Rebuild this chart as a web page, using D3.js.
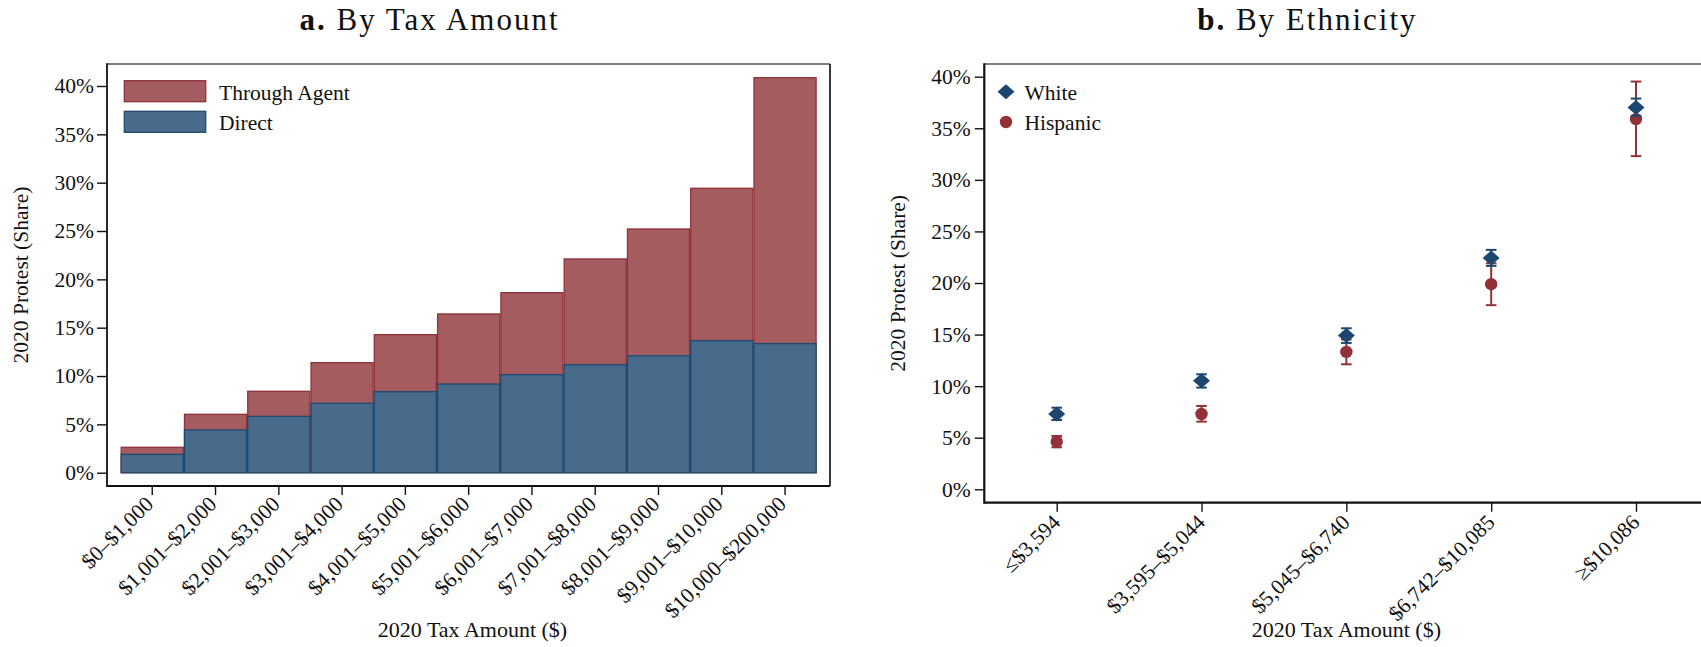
<!DOCTYPE html>
<html>
<head>
<meta charset="utf-8">
<script src="https://cdn.jsdelivr.net/npm/d3@7"></script>
<style>
  html, body { margin: 0; padding: 0; background: #fff; }
  svg { display: block; font-family: "Liberation Serif", "Times New Roman", serif; }
</style>
</head>
<body>
<svg id="fig" width="1701" height="647"></svg>
<script>
// Panel a: protest share by 2020 tax amount, split by filing channel (percent)
const taxBins = ["$0–$1,000", "$1,001–$2,000", "$2,001–$3,000", "$3,001–$4,000", "$4,001–$5,000",
  "$5,001–$6,000", "$6,001–$7,000", "$7,001–$8,000", "$8,001–$9,000", "$9,001–$10,000", "$10,000–$200,000"];
const directShare = [1.90, 4.42, 5.83, 7.18, 8.38, 9.17, 10.14, 11.17, 12.10, 13.66, 13.35];
const agentShare  = [0.73, 1.62, 2.59, 4.20, 5.90, 7.25, 8.48, 10.94, 13.11, 15.76, 27.51];

// Panel b: protest share by tax amount quintile and ethnicity (percent, with 95% CI)
const ethBins = ["≤$3,594", "$3,595–$5,044", "$5,045–$6,740", "$6,742–$10,085", "≥$10,086"];
const whiteShare = [7.30, 10.53, 14.90, 22.43, 37.01];
const whiteLow   = [6.72, 9.86, 14.19, 21.66, 36.20];
const whiteHigh  = [7.91, 11.15, 15.61, 23.21, 37.88];
const hispShare  = [4.62, 7.30, 13.32, 19.88, 35.89];
const hispLow    = [4.07, 6.56, 12.12, 17.85, 32.30];
const hispHigh   = [5.17, 8.08, 14.52, 21.91, 39.53];

const yTicks = [0, 5, 10, 15, 20, 25, 30, 35, 40];

const RED_FILL = "#a55c60", RED_LINE = "#8e3139";
const BLUE_FILL = "#486b8c", BLUE_LINE = "#1f4a70";
const NAVY = "#1b466f", MAROON = "#923238";
const FS = 21.5;

const svg = d3.select("#fig");

function frame(g, x0, x1, y0, y1, w) {
  g.append("line").attr("x1", x0).attr("x2", x1).attr("y1", y0).attr("y2", y0)
    .attr("stroke", "#555").attr("stroke-width", 1.4);
  g.append("line").attr("x1", x1).attr("x2", x1).attr("y1", y0).attr("y2", y1)
    .attr("stroke", "#222").attr("stroke-width", w);
  g.append("line").attr("x1", x0).attr("x2", x0).attr("y1", y0 - 0.7).attr("y2", y1 + w / 2)
    .attr("stroke", "#111").attr("stroke-width", w);
  g.append("line").attr("x1", x0).attr("x2", x1).attr("y1", y1).attr("y2", y1)
    .attr("stroke", "#111").attr("stroke-width", w);
}

function styleAxis(a) {
  a.select(".domain").remove();
  a.selectAll(".tick line").attr("stroke", "#111").attr("stroke-width", 1.4);
  a.selectAll(".tick text").attr("font-size", FS).attr("fill", "#111")
    .attr("font-family", "Liberation Serif, serif");
}

function title(x, y, bold, rest) {
  const t = svg.append("text").attr("x", x).attr("y", y).attr("text-anchor", "middle")
    .attr("font-size", 31).attr("letter-spacing", 2).attr("fill", "#111");
  t.append("tspan").attr("font-weight", "bold").text(bold);
  t.append("tspan").text(" " + rest);
}

// ---------- Panel a ----------
{
  const L = 107, R = 830, T = 64, B = 486;
  const x = d3.scaleBand().domain(taxBins).range([L + 13.6, R - 13.3]).padding(0);
  const y = d3.scaleLinear().domain([0, 40]).range([472.7, 86]);
  const g = svg.append("g");

  const rows = taxBins.map((b, i) => ({ bin: b, direct: directShare[i], agent: agentShare[i] }));
  const stack = d3.stack().keys(["direct", "agent"])(rows);

  // total (through agent) bars drawn from zero, direct bars laid over them
  g.append("g").selectAll("rect").data(stack[1]).join("rect")
    .attr("x", d => x(d.data.bin) + 0.6).attr("width", x.bandwidth() - 1.2)
    .attr("y", d => y(d[1])).attr("height", d => y(0) - y(d[1]))
    .attr("fill", RED_FILL).attr("stroke", RED_LINE).attr("stroke-width", 1.3);
  g.append("g").selectAll("rect").data(stack[0]).join("rect")
    .attr("x", d => x(d.data.bin) + 0.6).attr("width", x.bandwidth() - 1.2)
    .attr("y", d => y(d[1])).attr("height", d => y(0) - y(d[1]))
    .attr("fill", BLUE_FILL).attr("stroke", BLUE_LINE).attr("stroke-width", 1.3);

  frame(g, L, R, T, B, 1.8);

  const ya = g.append("g").attr("transform", `translate(${L},0)`)
    .call(d3.axisLeft(y).tickValues(yTicks).tickSize(10).tickPadding(3).tickFormat(d => d + "%"));
  styleAxis(ya);

  const xa = g.append("g").attr("transform", `translate(0,${B})`)
    .call(d3.axisBottom(x).tickSize(9).tickPadding(0));
  styleAxis(xa);
  xa.selectAll(".tick text")
    .attr("text-anchor", "end").attr("transform", "translate(-3,14) rotate(-45)")
    .attr("dy", "0.35em").attr("y", 0).attr("x", 0);

  g.append("text").attr("transform", `translate(28,${(T + B) / 2}) rotate(-90)`)
    .attr("text-anchor", "middle").attr("font-size", FS).attr("fill", "#111")
    .text("2020 Protest (Share)");
  g.append("text").attr("x", (L + R) / 2 + 4).attr("y", 637).attr("text-anchor", "middle")
    .attr("font-size", 22).attr("fill", "#111").text("2020 Tax Amount ($)");

  // legend
  const leg = [["Through Agent", RED_FILL, RED_LINE, 80.7], ["Direct", BLUE_FILL, BLUE_LINE, 111.3]];
  leg.forEach(([lab, f, s, yy]) => {
    g.append("rect").attr("x", 124.3).attr("y", yy).attr("width", 81.4).attr("height", 21)
      .attr("fill", f).attr("stroke", s).attr("stroke-width", 1.3);
    g.append("text").attr("x", 219).attr("y", yy + 19).attr("font-size", FS).attr("fill", "#111").text(lab);
  });

  title((L + R) / 2 - 39, 29.5, "a.", "By Tax Amount");
}

// ---------- Panel b ----------
{
  const x = d3.scalePoint().domain(ethBins).range([1056.7, 1636]).padding(0);
  const step = x.step();
  const L = x(ethBins[0]) - step / 2, R = x(ethBins[ethBins.length - 1]) + step / 2;
  const T = 64, B = 502.7;
  const y = d3.scaleLinear().domain([0, 40]).range([489.3, 76.7]);
  const g = svg.append("g");

  frame(g, L, R, T, B, 2.2);

  const ya = g.append("g").attr("transform", `translate(${L},0)`)
    .call(d3.axisLeft(y).tickValues(yTicks).tickSize(9.5).tickPadding(4).tickFormat(d => d + "%"));
  styleAxis(ya);

  const xa = g.append("g").attr("transform", `translate(0,${B})`)
    .call(d3.axisBottom(x).tickSize(9).tickPadding(0));
  styleAxis(xa);
  xa.selectAll(".tick text")
    .attr("text-anchor", "end").attr("transform", "translate(-1,15.5) rotate(-45)")
    .attr("dy", "0.35em").attr("y", 0).attr("x", 0);

  const diamond = "M0,-7.5L8.5,0L0,7.5L-8.5,0Z";
  const cap = 5.3;

  function series(vals, lo, hi, color, marker) {
    const s = g.append("g");
    ethBins.forEach((b, i) => {
      const cx = x(b);
      s.append("line").attr("x1", cx).attr("x2", cx).attr("y1", y(lo[i])).attr("y2", y(hi[i]))
        .attr("stroke", color).attr("stroke-width", 2);
      [lo[i], hi[i]].forEach(v => s.append("line").attr("x1", cx - cap).attr("x2", cx + cap)
        .attr("y1", y(v)).attr("y2", y(v)).attr("stroke", color).attr("stroke-width", 2));
      if (marker === "circle") {
        s.append("circle").attr("cx", cx).attr("cy", y(vals[i])).attr("r", 6.2).attr("fill", color);
      } else {
        s.append("path").attr("d", diamond).attr("transform", `translate(${cx},${y(vals[i])})`).attr("fill", color);
      }
    });
  }
  series(hispShare, hispLow, hispHigh, MAROON, "circle");
  series(whiteShare, whiteLow, whiteHigh, NAVY, "diamond");

  g.append("text").attr("transform", `translate(905,${(T + B) / 2}) rotate(-90)`)
    .attr("text-anchor", "middle").attr("font-size", FS).attr("fill", "#111")
    .text("2020 Protest (Share)");
  g.append("text").attr("x", (L + R) / 2).attr("y", 637).attr("text-anchor", "middle")
    .attr("font-size", 22).attr("fill", "#111").text("2020 Tax Amount ($)");

  // legend
  g.append("path").attr("d", diamond).attr("transform", "translate(1006,91.7)").attr("fill", NAVY);
  g.append("text").attr("x", 1024.5).attr("y", 99.5).attr("font-size", FS).attr("fill", "#111").text("White");
  g.append("circle").attr("cx", 1006).attr("cy", 122).attr("r", 6.2).attr("fill", MAROON);
  g.append("text").attr("x", 1024.5).attr("y", 130).attr("font-size", FS).attr("fill", "#111").text("Hispanic");

  title((L + R) / 2 - 39, 29.5, "b.", "By Ethnicity");
}
</script>
</body>
</html>
